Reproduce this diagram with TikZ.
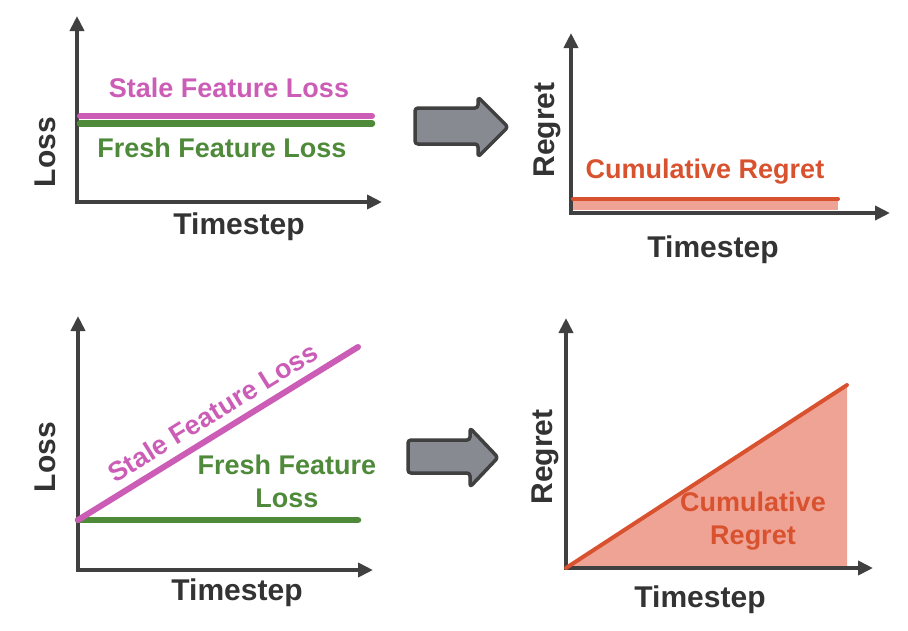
\documentclass[tikz,border=0pt]{standalone}
\usepackage{fontspec}
\setmainfont{Liberation Sans}
\usetikzlibrary{arrows.meta}
\definecolor{axisgray}{HTML}{404040}
\definecolor{stalepink}{HTML}{CC5DB6}
\definecolor{freshgreen}{HTML}{4E8A3A}
\definecolor{regretred}{HTML}{D9522F}
\definecolor{regretfill}{HTML}{EFA395}
\definecolor{arrowgray}{HTML}{878A91}
\begin{document}
\begin{tikzpicture}[x=1pt, y=-1pt, line join=round, line cap=round, >={Triangle[length=15pt,width=14pt]},
	axis/.style={draw=axisgray, line width=4pt, line join=miter, <->},
	axlab/.style={font=\bfseries\fontsize{30}{30}\selectfont, text=axisgray!80!black, inner sep=0pt},
	curvelab/.style={font=\bfseries\fontsize{27}{33}\selectfont, inner sep=0pt, align=center},
	stale/.style={draw=stalepink, line width=6pt},
	fresh/.style={draw=freshgreen, line width=6.5pt},
	regret/.style={draw=regretred, line width=4pt},
	bigarrow/.style={fill=arrowgray, draw=axisgray, line width=3.5pt, rounded corners=3pt}]
	\useasboundingbox (0,0) rectangle (908,630);
	\draw[axis] (77,16)--(77,202)--(382,202);
	\draw[stale] (80,116)--(372,116);
	\draw[fresh] (80,123.5)--(372,123.5);
	\node[axlab, rotate=90] (lossA) at (45,152) {Loss};
	\node[axlab] (timeA) at (239,227) {Timestep};
	\node[curvelab, text=stalepink] (staleA) at (229,88) {Stale Feature Loss};
	\node[curvelab, text=freshgreen] (freshA) at (222,148) {Fresh Feature Loss};
	\draw[bigarrow] (415,108)--(478,108)--(478,97)--(508,127)--(478,157)--(478,144)--(415,144)--cycle;
	\fill[regretfill] (573,199) rectangle (838,210);
	\draw[axis] (571,33)--(571,213)--(890,213);
	\draw[regret] (573,199)--(838,199);
	\node[axlab, rotate=90] (regretA) at (547,130) {Regret};
	\node[axlab] (timeB) at (713,250) {Timestep};
	\node[curvelab, text=regretred] (cumA) at (705,172) {Cumulative Regret};
	\draw[axis] (78,316)--(78,570)--(373,570);
	\draw[fresh] (78,520)--(358,520);
	\draw[stale] (78,520)--(358,347) node[pos=0.52, sloped, above=8pt, curvelab, text=stalepink] (staleB) {Stale Feature Loss};
	\node[axlab, rotate=90] (lossB) at (45,457) {Loss};
	\node[axlab] (timeC) at (237,593) {Timestep};
	\node[curvelab, text=freshgreen] (freshB) at (287,481) {Fresh Feature\\Loss};
	\draw[bigarrow] (408,440)--(470,440)--(470,428)--(498,457.5)--(470,487)--(470,473)--(408,473)--cycle;
	\fill[regretfill] (566,568)--(847,385)--(847,568)--cycle;
	\draw[axis] (566,318)--(566,568)--(873,568);
	\draw[regret] (566,568)--(847,385);
	\node[axlab, rotate=90] (regretB) at (545,457) {Regret};
	\node[axlab] (timeD) at (700,600) {Timestep};
	\node[curvelab, text=regretred] (cumB) at (753,521) {Cumulative\\Regret};
\end{tikzpicture}
\end{document}
